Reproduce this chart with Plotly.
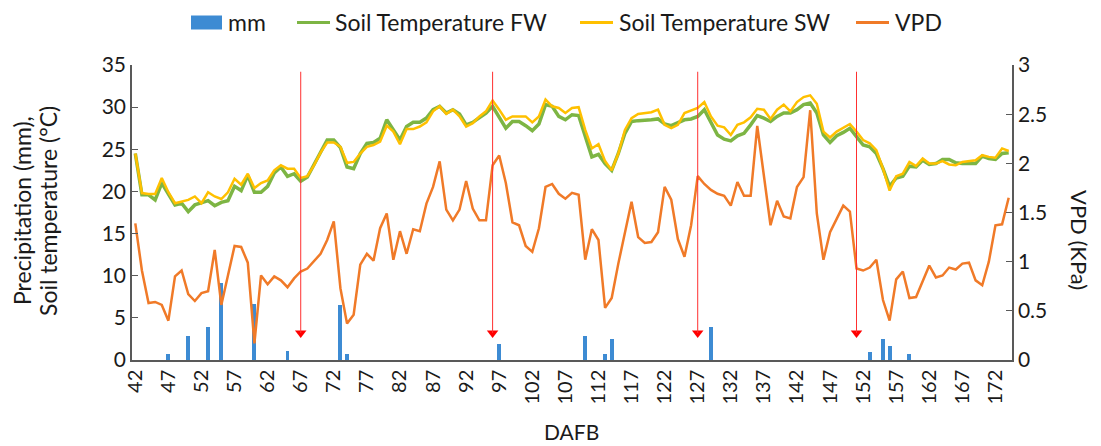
import plotly.graph_objects as go

days = list(range(42, 175))
tick_days = list(range(42, 175, 5))

rain_days = [47, 50, 53, 55, 60, 65, 73, 74, 97, 110, 113, 114, 129, 153, 155, 156, 159]
rain_mm = [0.7, 2.9, 3.9, 9.1, 6.6, 1.1, 6.5, 0.7, 1.9, 2.85, 0.7, 2.45, 3.9, 0.9, 2.45, 1.7, 0.7]

temp_fw = [
    24.5, 19.6, 19.6, 19.0, 21.0, 19.6, 18.4, 18.6, 17.6, 18.4,
    18.7, 18.9, 18.3, 18.7, 18.9, 20.6, 20.1, 21.9, 19.9, 19.9,
    20.6, 22.2, 22.9, 21.8, 22.1, 21.2, 21.7, 23.1, 24.7, 26.1,
    26.1, 25.2, 22.9, 22.7, 24.5, 25.7, 25.8, 26.3, 28.5, 27.3,
    26.1, 27.7, 28.2, 28.2, 28.7, 29.7, 30.1, 29.3, 29.7, 29.2,
    27.9, 28.2, 28.7, 29.3, 30.1, 28.7, 27.5, 28.3, 28.3, 27.8,
    27.2, 28.0, 30.3, 30.1, 28.9, 28.5, 29.1, 29.0, 26.5, 24.1,
    24.4, 23.3, 22.5, 24.5, 26.9, 28.3, 28.4, 28.4, 28.5, 28.6,
    28.0, 27.8, 28.2, 28.5, 28.6, 28.9, 29.7, 28.3, 26.7, 26.2,
    26.0, 26.6, 26.9, 27.9, 29.0, 28.7, 28.3, 28.9, 29.3, 29.3,
    29.7, 30.3, 30.5, 29.3, 26.7, 25.8, 26.6, 27.0, 27.5, 26.5,
    25.5, 25.3, 24.5, 22.7, 20.6, 21.6, 21.8, 23.0, 22.9, 23.7,
    23.2, 23.3, 23.8, 23.8, 23.4, 23.3, 23.3, 23.3, 24.2, 23.9,
    23.8, 24.5, 24.6,
]

temp_sw = [
    24.5, 19.8, 19.7, 19.7, 21.6, 19.9, 18.6, 18.8, 19.0, 19.4,
    18.6, 19.9, 19.4, 19.1, 19.9, 21.5, 20.8, 22.1, 20.4, 21.0,
    21.3, 22.5, 23.1, 22.7, 22.7, 21.6, 21.8, 23.1, 24.6, 25.8,
    25.8, 25.3, 23.4, 23.5, 24.5, 25.3, 25.5, 25.9, 27.8, 27.1,
    25.6, 27.4, 27.4, 27.7, 28.2, 29.5, 30.1, 29.2, 29.7, 28.9,
    27.7, 28.1, 28.9, 29.5, 30.8, 29.7, 28.5, 28.9, 28.9, 28.9,
    28.2, 28.9, 30.9, 30.1, 29.9, 29.3, 29.9, 30.0, 27.3, 25.1,
    25.6, 23.6, 22.5, 24.5, 27.3, 28.7, 29.2, 29.3, 29.4, 29.7,
    27.9, 27.5, 27.9, 29.3, 29.6, 29.9, 30.6, 28.9, 27.8, 27.6,
    26.7, 27.9, 28.2, 28.8, 29.8, 29.7, 28.6, 29.7, 30.3, 29.5,
    30.6, 31.2, 31.4, 30.4, 27.1, 26.4, 27.1, 27.5, 28.0, 27.1,
    26.1, 25.7, 24.9, 22.7, 20.1, 21.8, 22.1, 23.5, 23.0, 23.9,
    23.3, 23.3, 23.6, 23.2, 23.1, 23.5, 23.6, 23.7, 24.3, 24.1,
    24.0, 25.1, 24.8,
]

vpd = [
    1.39, 0.91, 0.58, 0.59, 0.56, 0.40, 0.85, 0.91, 0.67, 0.60,
    0.68, 0.70, 1.12, 0.56, 0.86, 1.16, 1.15, 0.99, 0.17, 0.86,
    0.77, 0.85, 0.81, 0.74, 0.83, 0.90, 0.93, 1.00, 1.08, 1.22,
    1.41, 0.73, 0.37, 0.46, 0.97, 1.08, 1.01, 1.34, 1.49, 1.02,
    1.31, 1.08, 1.33, 1.31, 1.59, 1.76, 2.02, 1.53, 1.42, 1.53,
    1.82, 1.54, 1.42, 1.42, 1.98, 2.08, 1.80, 1.40, 1.37, 1.16,
    1.10, 1.34, 1.76, 1.79, 1.69, 1.64, 1.70, 1.68, 1.02, 1.33,
    1.22, 0.53, 0.63, 0.98, 1.28, 1.61, 1.25, 1.19, 1.20, 1.30,
    1.76, 1.63, 1.23, 1.05, 1.37, 1.87, 1.79, 1.73, 1.69, 1.67,
    1.57, 1.81, 1.67, 1.67, 2.38, 1.86, 1.37, 1.62, 1.46, 1.44,
    1.76, 1.86, 2.54, 1.49, 1.02, 1.30, 1.44, 1.57, 1.51, 0.93,
    0.91, 0.94, 1.02, 0.61, 0.40, 0.82, 0.90, 0.63, 0.64, 0.80,
    0.96, 0.84, 0.86, 0.94, 0.92, 0.98, 0.99, 0.81, 0.76, 1.00,
    1.37, 1.38, 1.65,
]

arrow_days = [67, 96, 127, 151]
arrow_top = 34.2
arrow_tip = 3.2

left_ticks = [0, 5, 10, 15, 20, 25, 30, 35]
right_ticks = [0, 0.5, 1, 1.5, 2, 2.5, 3]
right_tick_text = ["0", "0.5", "1", "1.5", "2", "2.5", "3"]

series_names = ["mm", "Soil Temperature FW", "Soil Temperature SW", "VPD"]

FONT = "Lato, 'Open Sans', sans-serif"
TXT = "#1a1a1a"
AX = "#595959"
C_BAR = "#3D8BD3"
C_FW = "#7DB544"
C_SW = "#FFC000"
C_VPD = "#F07A28"

# plot-area geometry (pixels) used to place legend / titles in paper coords
L, R, T, B = 132, 1012, 65, 360


def px(xp):
    return (xp - L) / (R - L)


def py(yp):
    return (B - yp) / (B - T)


fig = go.Figure()

fig.add_trace(go.Bar(x=rain_days, y=rain_mm, name=series_names[0], width=0.6,
                     marker=dict(color=C_BAR, line=dict(width=0)), yaxis="y"))
fig.add_trace(go.Scatter(x=days, y=temp_fw, name=series_names[1], mode="lines",
                         line=dict(color=C_FW, width=3.5), yaxis="y"))
fig.add_trace(go.Scatter(x=days, y=temp_sw, name=series_names[2], mode="lines",
                         line=dict(color=C_SW, width=2.5), yaxis="y"))
fig.add_trace(go.Scatter(x=days, y=vpd, name=series_names[3], mode="lines",
                         line=dict(color=C_VPD, width=2.5), yaxis="y2"))

shapes = []
for d in arrow_days:
    shapes.append(dict(type="line", xref="x", yref="y", x0=d, x1=d, y0=arrow_top, y1=arrow_tip,
                       line=dict(color="#FF3030", width=1)))
fig.add_trace(go.Scatter(x=arrow_days, y=[arrow_tip] * len(arrow_days), mode="markers",
                         marker=dict(symbol="triangle-down", size=10, color="#FF0000"),
                         showlegend=False, hoverinfo="skip", yaxis="y"))

# manual legend (Excel-like): symbol boxes/lines + labels
leg_y = 22.5
leg_items = [
    ("rect", C_BAR, 191, 222, 226, series_names[0]),
    ("line", C_FW, 297, 330, 333, series_names[1]),
    ("line", C_SW, 580, 613, 617, series_names[2]),
    ("line", C_VPD, 856, 889, 893, series_names[3]),
]
annotations = []
for kind, col, x0, x1, xt, name in leg_items:
    if kind == "rect":
        shapes.append(dict(type="rect", xref="paper", yref="paper", x0=px(x0), x1=px(x1),
                           y0=py(leg_y + 7), y1=py(leg_y - 7), fillcolor=col,
                           line=dict(width=0)))
    else:
        shapes.append(dict(type="line", xref="paper", yref="paper", x0=px(x0), x1=px(x1),
                           y0=py(leg_y), y1=py(leg_y), line=dict(color=col, width=3)))
    annotations.append(dict(text=name, xref="paper", yref="paper", x=px(xt), y=py(leg_y),
                            xanchor="left", yanchor="middle", showarrow=False,
                            font=dict(size=23, color=TXT)))

annotations += [
    dict(text="Precipitation (mm),", xref="paper", yref="paper", x=px(22), y=py(211),
         textangle=-90, showarrow=False, font=dict(size=23, color=TXT),
         xanchor="center", yanchor="middle"),
    dict(text="Soil temperature (°C)", xref="paper", yref="paper", x=px(48), y=py(211),
         textangle=-90, showarrow=False, font=dict(size=23, color=TXT),
         xanchor="center", yanchor="middle"),
    dict(text="VPD (KPa)", xref="paper", yref="paper", x=px(1080), y=py(240), textangle=90,
         showarrow=False, font=dict(size=22, color=TXT), xanchor="center", yanchor="middle"),
    dict(text="DAFB", xref="paper", yref="paper", x=px(571), y=py(431), showarrow=False,
         font=dict(size=21, color=TXT), xanchor="center", yanchor="middle"),
]

fig.update_layout(
    width=1101, height=446,
    margin=dict(l=L, r=1101 - R, t=T, b=446 - B),
    paper_bgcolor="white", plot_bgcolor="white",
    font=dict(family=FONT, size=20, color=TXT),
    bargap=0,
    showlegend=False,
    xaxis=dict(range=[41.5, 174.5], tickmode="array", tickvals=tick_days,
               ticktext=[str(t) for t in tick_days], tickangle=-90,
               showline=True, linecolor=AX, linewidth=1.5, ticks="", showgrid=False,
               zeroline=False, tickfont=dict(size=20, color=TXT)),
    yaxis=dict(range=[0, 35], tickvals=left_ticks, showline=True, linecolor=AX, linewidth=1.5,
               ticks="inside", ticklen=6, tickcolor=AX, showgrid=False, zeroline=False,
               tickfont=dict(size=21, color=TXT)),
    yaxis2=dict(range=[0, 3], overlaying="y", side="right", tickvals=right_ticks,
                ticktext=right_tick_text, showline=True, linecolor=AX, linewidth=1.5,
                ticks="inside", ticklen=6, tickcolor=AX, showgrid=False, zeroline=False,
                tickfont=dict(size=21, color=TXT)),
    shapes=shapes,
    annotations=annotations,
)

fig.write_html("out.html")
